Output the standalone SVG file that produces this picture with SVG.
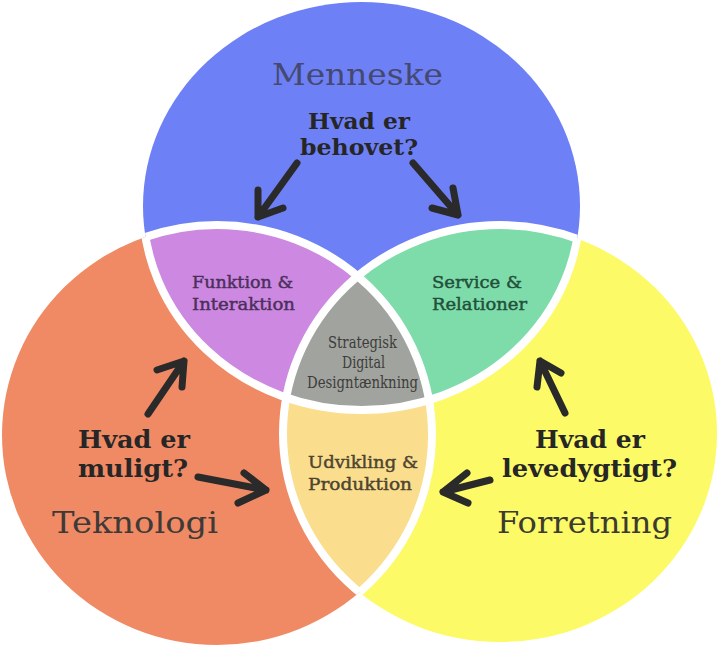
<svg xmlns="http://www.w3.org/2000/svg" width="721" height="659" viewBox="0 0 721 659">
  <defs>
    <clipPath id="cBlue"><ellipse cx="361.5" cy="206" rx="218.5" ry="204"/></clipPath>
    <clipPath id="cOrange"><ellipse cx="217" cy="435" rx="215" ry="210"/></clipPath>
    <clipPath id="cYellow"><ellipse cx="500" cy="433.5" rx="217" ry="208.5"/></clipPath>
    <clipPath id="cOY"><ellipse cx="217" cy="435" rx="215" ry="210"/><ellipse cx="500" cy="433.5" rx="217" ry="208.5"/></clipPath>
    <clipPath id="cBY"><ellipse cx="361.5" cy="206" rx="218.5" ry="204"/><ellipse cx="500" cy="433.5" rx="217" ry="208.5"/></clipPath>
    <clipPath id="cBO"><ellipse cx="361.5" cy="206" rx="218.5" ry="204"/><ellipse cx="217" cy="435" rx="215" ry="210"/></clipPath>
    <style>
      .big { font-family: "DejaVu Serif", "Liberation Serif", serif; font-size: 30px; }
      .q { font-family: "DejaVu Serif", "Liberation Serif", serif; font-weight: bold; fill: #262626; }
      .lbl { font-family: "DejaVu Serif", "Liberation Serif", serif; font-size: 17px; stroke-width: 0.45; }
      .edge { fill: none; stroke: #ffffff; stroke-width: 8; }
      .arrow { fill: none; stroke: #2a2a2a; stroke-width: 7; stroke-linecap: round; stroke-linejoin: round; }
    </style>
  </defs>
  <rect width="721" height="659" fill="#ffffff"/>

  <g id="menneske">
    <ellipse cx="361.5" cy="206" rx="218.5" ry="204" fill="#6e80f5"/>
  </g>
  <g id="teknologi">
    <ellipse cx="217" cy="435" rx="215" ry="210" fill="#f08a64"/>
  </g>
  <g id="forretning">
    <ellipse cx="500" cy="433.5" rx="217" ry="208.5" fill="#fcfa66"/>
  </g>
  <g id="funktion-interaktion">
    <ellipse cx="217" cy="435" rx="215" ry="210" fill="#cd88e1" clip-path="url(#cBlue)"/>
  </g>
  <g id="service-relationer">
    <ellipse cx="500" cy="433.5" rx="217" ry="208.5" fill="#7ddcaa" clip-path="url(#cBlue)"/>
  </g>
  <g id="udvikling-produktion">
    <ellipse cx="500" cy="433.5" rx="217" ry="208.5" fill="#fade8e" clip-path="url(#cOrange)"/>
  </g>
  <g id="strategisk-digital-designtaenkning">
    <g clip-path="url(#cBlue)">
      <ellipse cx="500" cy="433.5" rx="217" ry="208.5" fill="#a1a39e" clip-path="url(#cOrange)"/>
    </g>
  </g>

  <g id="borders">
    <ellipse class="edge" cx="361.5" cy="206" rx="218.5" ry="204" clip-path="url(#cOY)"/>
    <ellipse class="edge" cx="217" cy="435" rx="215" ry="210" clip-path="url(#cBY)"/>
    <ellipse class="edge" cx="500" cy="433.5" rx="217" ry="208.5" clip-path="url(#cBO)"/>
  </g>

  <g id="labels">
    <text class="big" x="272" y="85" textLength="171" lengthAdjust="spacingAndGlyphs" fill="#454970">Menneske</text>
    <text class="big" x="52" y="533" font-size="31" textLength="166" lengthAdjust="spacingAndGlyphs" fill="#3d3a38">Teknologi</text>
    <text class="big" x="497" y="533" font-size="31" textLength="175" lengthAdjust="spacingAndGlyphs" fill="#3b3b30">Forretning</text>

    <text class="q" x="308" y="129" font-size="22" textLength="102" lengthAdjust="spacingAndGlyphs">Hvad er</text>
    <text class="q" x="300" y="155" font-size="22" textLength="118" lengthAdjust="spacingAndGlyphs">behovet?</text>
    <text class="q" x="78" y="448" font-size="24" textLength="112" lengthAdjust="spacingAndGlyphs">Hvad er</text>
    <text class="q" x="78" y="477" font-size="24" textLength="110" lengthAdjust="spacingAndGlyphs">muligt?</text>
    <text class="q" x="535" y="448" font-size="24" textLength="110" lengthAdjust="spacingAndGlyphs">Hvad er</text>
    <text class="q" x="502" y="477" font-size="24" textLength="175" lengthAdjust="spacingAndGlyphs">levedygtigt?</text>

    <text class="lbl" x="192" y="288" textLength="101" lengthAdjust="spacingAndGlyphs" fill="#4b2f5c" stroke="#4b2f5c">Funktion &amp;</text>
    <text class="lbl" x="192" y="310" textLength="103" lengthAdjust="spacingAndGlyphs" fill="#4b2f5c" stroke="#4b2f5c">Interaktion</text>
    <text class="lbl" x="432" y="288" textLength="90" lengthAdjust="spacingAndGlyphs" fill="#22503a" stroke="#22503a">Service &amp;</text>
    <text class="lbl" x="432" y="310" textLength="95" lengthAdjust="spacingAndGlyphs" fill="#22503a" stroke="#22503a">Relationer</text>
    <text class="lbl" x="328" y="348" font-size="13" textLength="69" lengthAdjust="spacingAndGlyphs" fill="#3c3d3a">Strategisk</text>
    <text class="lbl" x="342" y="368" font-size="13" textLength="43" lengthAdjust="spacingAndGlyphs" fill="#3c3d3a">Digital</text>
    <text class="lbl" x="307" y="388" font-size="13" textLength="111" lengthAdjust="spacingAndGlyphs" fill="#3c3d3a">Designtænkning</text>
    <text class="lbl" x="308" y="468" font-size="18" textLength="110" lengthAdjust="spacingAndGlyphs" fill="#4e4430" stroke="#4e4430">Udvikling &amp;</text>
    <text class="lbl" x="308" y="490" font-size="18" textLength="104" lengthAdjust="spacingAndGlyphs" fill="#4e4430" stroke="#4e4430">Produktion</text>
  </g>

  <g id="connectors">
    <path class="arrow" d="M297,163 L258,217 M258,190 L258,217 L283,208"/>
    <path class="arrow" d="M413,163 L458,215 M453,188 L458,215 L432,208"/>
    <path class="arrow" d="M148,414 L184,361 M157,370 L184,361 L182,387"/>
    <path class="arrow" d="M198,477 L266,490 M244,473 L266,490 L238,503"/>
    <path class="arrow" d="M565,413 L540,361 M537,387 L540,361 L561,373"/>
    <path class="arrow" d="M490,480 L443,492 M467,473 L443,492 L468,503"/>
  </g>
</svg>
